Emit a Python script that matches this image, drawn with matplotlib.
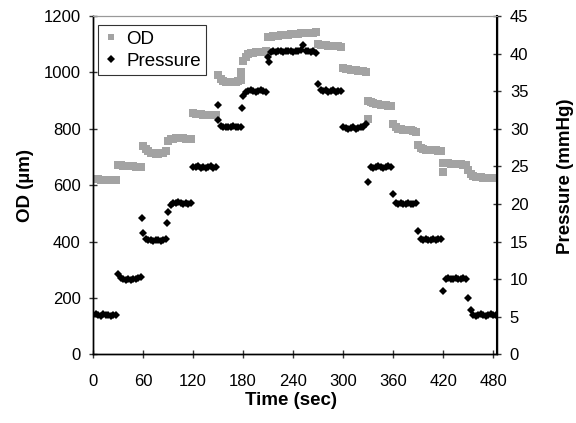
import numpy as np
import matplotlib
matplotlib.use('Agg')
import matplotlib.pyplot as plt
from matplotlib.lines import Line2D

plt.rcParams['font.family'] = ['Liberation Sans', 'DejaVu Sans']

# %% Data: one sample every 3 s, ten samples per 30 s step
dt = 3
od_steps = [
    [622, 621, 621, 620, 620, 619, 619, 619, 618, 618],
    [672, 670, 669, 668, 668, 667, 667, 666, 666, 665],
    [738, 728, 720, 715, 713, 712, 712, 713, 714, 720],
    [758, 762, 765, 766, 767, 767, 766, 765, 764, 763],
    [855, 853, 852, 851, 850, 850, 849, 849, 848, 848],
    [992, 976, 969, 966, 965, 965, 966, 967, 969, 972],
    [1040, 1055, 1064, 1067, 1069, 1071, 1072, 1073, 1074, 1075],
    [1124, 1126, 1128, 1129, 1130, 1131, 1132, 1133, 1134, 1135],
    [1136, 1137, 1137, 1138, 1139, 1139, 1140, 1141, 1141, 1142],
    [1100, 1098, 1097, 1096, 1095, 1094, 1094, 1093, 1092, 1091],
    [1016, 1013, 1011, 1009, 1008, 1007, 1006, 1005, 1004, 1003],
    [897, 894, 891, 889, 887, 886, 884, 883, 881, 880],
    [816, 806, 800, 798, 797, 796, 795, 794, 792, 790],
    [742, 733, 728, 726, 725, 724, 724, 723, 722, 721],
    [680, 678, 677, 676, 676, 675, 675, 674, 673, 672],
    [652, 640, 633, 630, 629, 628, 627, 627, 626, 625, 625, 624],
]
# odd OD samples between the regular ones
od_extra_t = [178, 330, 420]
od_extra_v = [1003, 834, 647]

pres_steps = [
    [5.2, 5.3, 5.2, 5.1, 5.3, 5.2, 5.2, 5.1, 5.2, 5.2],
    [10.7, 10.1, 10.0, 9.9, 10.0, 9.9, 10.0, 10.0, 10.1, 10.3],
    [16.1, 15.3, 15.2, 15.2, 15.1, 15.2, 15.2, 15.1, 15.2, 15.3],
    [18.9, 19.9, 20.1, 20.1, 20.2, 20.1, 20.0, 20.1, 20.0, 20.1],
    [24.9, 24.9, 25.0, 24.8, 24.9, 24.8, 24.9, 25.0, 24.8, 24.9],
    [31.2, 30.4, 30.3, 30.2, 30.3, 30.2, 30.4, 30.3, 30.2, 30.3],
    [34.3, 34.9, 35.0, 35.1, 35.0, 34.9, 35.0, 35.1, 35.0, 34.9],
    [39.6, 40.2, 40.3, 40.2, 40.4, 40.3, 40.2, 40.3, 40.4, 40.3],
    [40.2, 40.4, 40.3, 40.5, 41.1, 40.4, 40.3, 40.2, 40.3, 40.1],
    [36.0, 35.2, 35.0, 35.1, 34.9, 35.0, 35.1, 34.9, 35.0, 35.0],
    [30.2, 30.1, 30.0, 30.1, 30.2, 30.0, 30.1, 30.2, 30.3, 30.6],
    [22.9, 24.9, 24.8, 24.9, 25.0, 24.9, 24.8, 24.9, 25.0, 24.9],
    [21.3, 20.1, 20.0, 20.1, 20.0, 20.0, 20.1, 20.0, 20.0, 20.1],
    [16.4, 15.3, 15.2, 15.3, 15.2, 15.2, 15.3, 15.2, 15.3, 15.4],
    [8.4, 10.0, 10.1, 10.0, 10.0, 10.1, 10.0, 10.0, 10.1, 10.0],
    [7.5, 5.95, 5.2, 5.1, 5.2, 5.3, 5.2, 5.1, 5.2, 5.3, 5.2, 5.2],
]
pres_extra_t = [59, 89, 150, 179, 211]
pres_extra_v = [18.1, 17.5, 33.2, 32.8, 38.9]

x_ticks = [0, 60, 120, 180, 240, 300, 360, 420, 480]
od_ticks = [0, 200, 400, 600, 800, 1000, 1200]
pres_ticks = [0, 5, 10, 15, 20, 25, 30, 35, 40, 45]

od = np.concatenate(od_steps)
pres = np.concatenate(pres_steps)
t_od = np.arange(len(od)) * dt
t_pres = np.arange(len(pres)) * dt

# %% Plot
gray = '#a3a3a3'
fig = plt.figure(figsize=(5.76, 4.23), dpi=100)
ax = fig.add_axes([0.1615, 0.1624, 0.7019, 0.7998])
ax2 = ax.twinx()

ax.plot(t_od, od, 's', color=gray, ms=5.4, mew=0, linestyle='none')
ax.plot(od_extra_t, od_extra_v, 's', color=gray, ms=5.4, mew=0, linestyle='none')
ax2.plot(t_pres, pres, 'D', color='black', ms=4.2, mew=0, linestyle='none')
ax2.plot(pres_extra_t, pres_extra_v, 'D', color='black', ms=4.2, mew=0, linestyle='none')

ax.set_xlim(0, 485)
ax.set_ylim(0, 1200)
ax2.set_ylim(0, 45)
ax.set_xticks(x_ticks)
ax.set_yticks(od_ticks)
ax2.set_yticks(pres_ticks)

for a in (ax, ax2):
    a.tick_params(direction='inout', length=6, width=1, labelsize=12, color='#333333')
    for s in a.spines.values():
        s.set_linewidth(1)
    a.spines['top'].set_color('#999999')
    a.spines['top'].set_linewidth(0.8)
ax.tick_params(axis='x', pad=11)
ax.tick_params(axis='y', pad=6)
ax2.tick_params(axis='y', pad=6)
ax2.spines['right'].set_linewidth(1.5)

fig.text(0.49 * 0.7019 + 0.1615, 1 - 400 / 423, 'Time (sec)', ha='center', va='center',
         fontsize=13.5, fontweight='bold')
fig.text(25 / 576, 1 - 186 / 423, 'OD (\u00b5m)', rotation=90, ha='center', va='center',
         fontsize=13.5, fontweight='bold')
fig.text(565 / 576, 1 - 176 / 423, 'Pressure (mmHg)', rotation=90, ha='center', va='center',
         fontsize=13.5, fontweight='bold')

handles = [Line2D([], [], marker='s', color=gray, ms=5, mew=0, linestyle='none'),
           Line2D([], [], marker='D', color='black', ms=4, mew=0, linestyle='none')]
leg = ax2.legend(handles, ['OD', 'Pressure'], loc='upper left', bbox_to_anchor=(0.012, 0.973),
                 fontsize=13.5, frameon=True, fancybox=False, numpoints=1,
                 handlelength=0.8, handletextpad=0.4, borderpad=0.3, labelspacing=0.25,
                 borderaxespad=0)
leg.get_frame().set_edgecolor('black')
leg.get_frame().set_linewidth(0.8)

plt.savefig('out.png', dpi=100)
